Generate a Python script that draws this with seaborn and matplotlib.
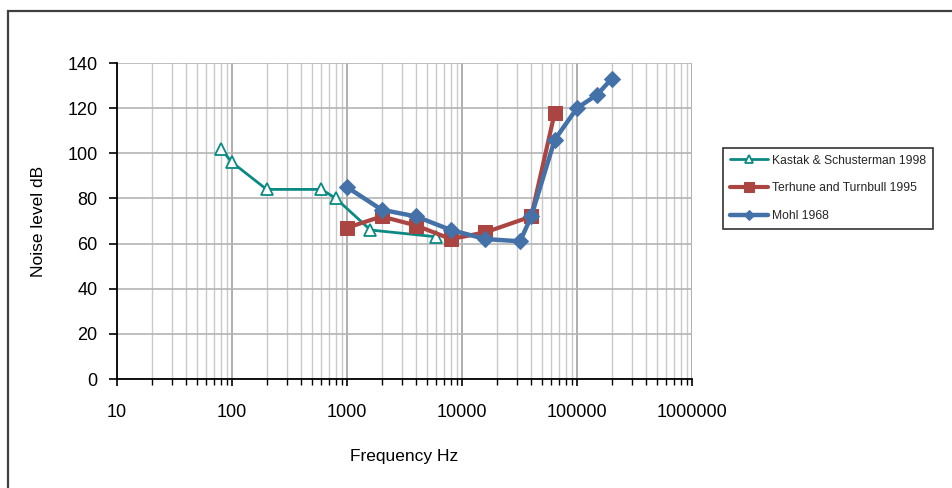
import matplotlib
matplotlib.use("Agg")
import matplotlib.pyplot as plt
import matplotlib.ticker as mticker
from matplotlib.patches import Rectangle
import seaborn as sns
import pandas as pd

# ---- data ----
kastak_freq = [80, 100, 200, 600, 800, 1600, 6000]
kastak_db = [102, 96, 84, 84, 80, 66, 63]

terhune_freq = [1000, 2000, 4000, 8000, 16000, 40000, 64000]
terhune_db = [67, 72, 68, 62, 65, 72, 118]

mohl_freq = [1000, 2000, 4000, 8000, 16000, 32000, 40000, 64000, 100000, 150000, 200000]
mohl_db = [85, 75, 72, 66, 62, 61, 72, 106, 120, 126, 133]

series_names = ["Kastak & Schusterman 1998", "Terhune and Turnbull 1995", "Mohl 1968"]
x_ticks = [10, 100, 1000, 10000, 100000, 1000000]
x_tick_labels = ["10", "100", "1000", "10000", "100000", "1000000"]
y_ticks = [0, 20, 40, 60, 80, 100, 120, 140]

sns.set_theme(style="white")
plt.rcParams["font.family"] = ["Liberation Sans", "DejaVu Sans"]

fig = plt.figure(figsize=(9.52, 4.88), dpi=100)
ax = fig.add_axes([117/952, 1 - 379/488, (692-117)/952, (379-63)/488])

teal = "#0a8a82"
red = "#ab4542"
blue = "#4472a8"

df_k = pd.DataFrame({"freq": kastak_freq, "db": kastak_db})
df_t = pd.DataFrame({"freq": terhune_freq, "db": terhune_db})
df_m = pd.DataFrame({"freq": mohl_freq, "db": mohl_db})

sns.lineplot(data=df_k, x="freq", y="db", ax=ax, color=teal, lw=2.0,
             marker="^", markersize=8.5, markerfacecolor="white",
             markeredgecolor=teal, markeredgewidth=1.3, label=series_names[0], zorder=3)
sns.lineplot(data=df_t, x="freq", y="db", ax=ax, color=red, lw=3.0,
             marker="s", markersize=10, markerfacecolor=red,
             markeredgecolor=red, label=series_names[1], zorder=4)
sns.lineplot(data=df_m, x="freq", y="db", ax=ax, color=blue, lw=3.2,
             marker="D", markersize=8, markerfacecolor=blue,
             markeredgecolor=blue, label=series_names[2], zorder=5)

ax.set_xscale("log")
ax.set_xlim(10, 1000000)
ax.set_ylim(0, 140)
ax.set_xticks(x_ticks)
ax.set_xticklabels(x_tick_labels)
ax.xaxis.set_minor_locator(mticker.LogLocator(base=10, subs=range(2, 10), numticks=20))
ax.xaxis.set_minor_formatter(mticker.NullFormatter())
ax.set_yticks(y_ticks)

ax.grid(which="major", axis="x", color="#a8a8a8", lw=1.3)
ax.grid(which="minor", axis="x", color="#cacaca", lw=1.0)
ax.grid(which="major", axis="y", color="#b4b4b4", lw=1.2)
ax.set_axisbelow(True)

for s in ["top", "right"]:
    ax.spines[s].set_visible(False)
for s in ["left", "bottom"]:
    ax.spines[s].set_color("black")
    ax.spines[s].set_linewidth(1.3)

ax.tick_params(axis="both", which="both", direction="out", colors="black",
               labelsize=13, labelcolor="black")
ax.tick_params(axis="x", which="major", length=5, width=1.2, pad=13, bottom=True)
ax.tick_params(axis="x", which="minor", length=4, width=1.0, bottom=True)
ax.tick_params(axis="y", which="major", length=6, width=1.2, pad=8, left=True)

ax.set_xlabel("Frequency Hz", fontsize=12.5, labelpad=20, color="black")
ax.set_ylabel("Noise level dB", fontsize=12.5, labelpad=15, color="black")

leg = ax.legend(loc="upper left", bbox_to_anchor=(723/952, 1 - 148/488),
                bbox_transform=fig.transFigure, fontsize=8.7, frameon=True,
                fancybox=False, edgecolor="black", handlelength=3.2,
                borderpad=0.55, labelspacing=1.3, handletextpad=0.3,
                borderaxespad=0)
leg.get_frame().set_linewidth(1.2)
for h, ms in zip(leg.legend_handles, [5.5, 6.5, 5]):
    h.set_markersize(ms)

fig.patches.append(Rectangle((8/952, -0.1), 2.0, 1.1 - 11/488, transform=fig.transFigure,
                             fill=False, edgecolor="#404040", lw=1.6))

fig.savefig("out.png", dpi=100)
